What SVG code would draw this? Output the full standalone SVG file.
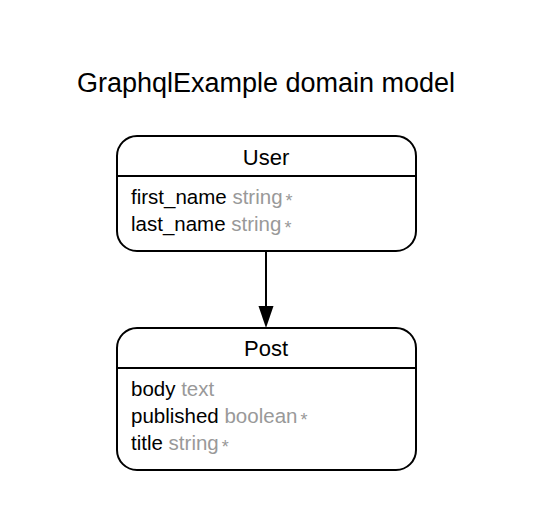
<svg xmlns="http://www.w3.org/2000/svg" width="533" height="531" viewBox="0 0 533 531">
<defs>
<style>
text{font-family:"Liberation Sans",Arial,Helvetica,sans-serif;fill:#000}
.title{font-size:27px}
.hdr{font-size:22px}
.attr{font-size:20.5px}
.type{fill:#999999}
.star{fill:#999999;font-size:18px}
.box{fill:#fff;stroke:#000;stroke-width:2}
.div{stroke:#000;stroke-width:2}
.edge{stroke:#000;stroke-width:2;fill:none}
</style>
</defs>
<rect width="533" height="531" fill="#fff"/>
<text class="title" x="266" y="92" text-anchor="middle">GraphqlExample domain model</text>
<g id="connectors">
<path class="edge" d="M266,251 L266,307"/>
<path d="M258.5,306 L273.5,306 L266,328 Z" fill="#000"/>
</g>
<g id="User">
<rect class="box" x="117" y="136" width="299" height="115" rx="20" ry="20"/>
<line class="div" x1="117" y1="176" x2="416" y2="176"/>
<text class="hdr" x="266" y="165" text-anchor="middle">User</text>
<text class="attr" x="131" y="204">first_name <tspan class="type">string</tspan><tspan class="star" dx="3" dy="3">*</tspan></text>
<text class="attr" x="131" y="231">last_name <tspan class="type">string</tspan><tspan class="star" dx="3" dy="3">*</tspan></text>
</g>
<g id="Post">
<rect class="box" x="117" y="328" width="299" height="142" rx="20" ry="20"/>
<line class="div" x1="117" y1="368" x2="416" y2="368"/>
<text class="hdr" x="266" y="356" text-anchor="middle">Post</text>
<text class="attr" x="131" y="396">body <tspan class="type">text</tspan></text>
<text class="attr" x="131" y="423">published <tspan class="type">boolean</tspan><tspan class="star" dx="3" dy="3">*</tspan></text>
<text class="attr" x="131" y="450">title <tspan class="type">string</tspan><tspan class="star" dx="3" dy="3">*</tspan></text>
</g>
</svg>
